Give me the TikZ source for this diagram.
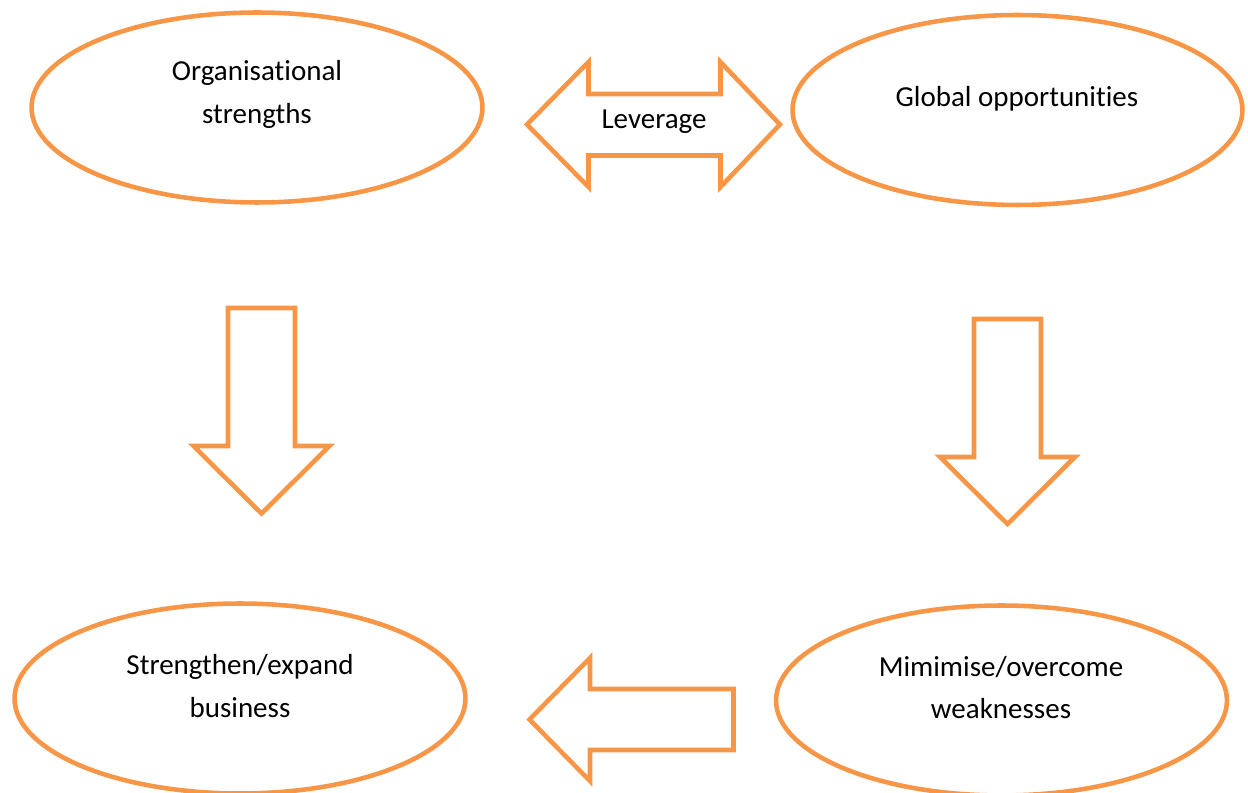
\documentclass[tikz,border=0pt]{standalone}
\usepackage{fontspec}
\setmainfont{Carlito}[Ligatures=NoCommon]
\usetikzlibrary{shapes.geometric}
\definecolor{accent}{HTML}{F79646}

\begin{document}
\begin{tikzpicture}[x=0.02cm, y=-0.02cm,
    oval/.style={ellipse, draw=accent, line width=2.6pt, minimum width=9.02cm, minimum height=3.8cm, inner sep=0pt},
    blockarrow/.style={draw=accent, line width=2.6pt, line join=miter},
    txt/.style={font=\fontsize{16.5}{24}\selectfont, align=center, inner sep=0pt}]
\useasboundingbox (0,0) rectangle (1248,793);

% Ellipses
\node[oval] (strengths) at (257,107.5) {};
\node[txt] (strengthsText) at (257,94.5) {Organisational\\strengths};

\node[oval, minimum width=9.0cm] (opportunities) at (1017.5,110) {};
\node[txt] (opportunitiesText) at (1017,99) {Global opportunities};

\node[oval] (expand) at (240,698.5) {};
\node[txt] (expandText) at (240,686) {Strengthen/expand\\business};

\node[oval] (weaknesses) at (1001.5,700.5) {};
\node[txt] (weaknessesText) at (1001,687.5) {Mimimise/overcome\\weaknesses};

% Leverage: double arrow
\draw[blockarrow] (527,124.5) -- (588.5,62) -- (588.5,94) -- (720.5,94) -- (720.5,62)
    -- (780,124.5) -- (720.5,187) -- (720.5,155.5) -- (588.5,155.5) -- (588.5,187) -- cycle;
\node[txt] (leverage) at (654,122) {Leverage};

% Down arrow, left
\draw[blockarrow] (228,308) -- (295,308) -- (295,446) -- (329.5,446) -- (261.5,513.5)
    -- (193.5,446) -- (228,446) -- cycle;

% Down arrow, right
\draw[blockarrow] (974,319) -- (1041,319) -- (1041,457) -- (1075,457) -- (1007.5,524)
    -- (940,457) -- (974,457) -- cycle;

% Left arrow, bottom
\draw[blockarrow] (733.5,689) -- (590,689) -- (590,658) -- (529.5,719.5) -- (590,781)
    -- (590,750) -- (733.5,750) -- cycle;
\end{tikzpicture}
\end{document}
